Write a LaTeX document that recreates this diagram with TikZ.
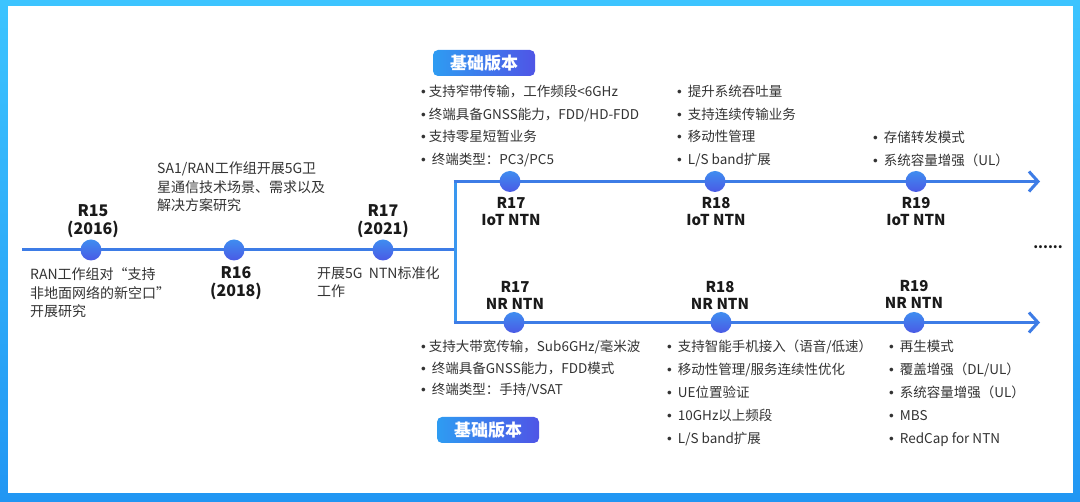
\documentclass[tikz,border=0pt]{standalone}
\usepackage{fontspec}
\setmainfont{Noto Sans CJK SC}
\newfontfamily\bulf{Liberation Sans}
\usetikzlibrary{arrows.meta}
\definecolor{frTop}{HTML}{3CC4FF}
\definecolor{frBot}{HTML}{2196F3}
\definecolor{lineC}{HTML}{3D7CE6}
\definecolor{vertC}{HTML}{3A97EF}
\definecolor{txt}{HTML}{333333}
\definecolor{lab}{HTML}{1A1A1A}
\definecolor{bdL}{HTML}{2E9CF2}
\definecolor{bdR}{HTML}{4F55E6}
\definecolor{cirT}{HTML}{3F8DF0}
\definecolor{cirB}{HTML}{4A5AE5}
\tikzset{
  tl/.style={line width=3pt, draw=lineC},
  arr/.style={tl, -{Straight Barb[length=9pt,width=20pt,line width=3pt]}},
  dot/.style={circle, minimum size=21pt, inner sep=0pt, top color=cirT, bottom color=cirB, draw=none},
  lbl/.style={align=center, font=\fontsize{15}{17}\selectfont\bfseries, text=lab, inner sep=0pt},
  lblbig/.style={align=center, font=\fontsize{16}{18}\selectfont\bfseries, text=lab, inner sep=0pt},
  desc/.style={anchor=west, align=left, font=\fontsize{14}{18.5}\selectfont, text=txt, inner sep=0pt},
  bl/.style={anchor=base west, font=\fontsize{13.5}{16}\selectfont, text=txt, inner sep=0pt},
  badge/.style={rounded corners=5pt, left color=bdL, right color=bdR, minimum width=102pt, minimum height=26pt, inner sep=0pt, text=white, font=\fontsize{17}{19}\selectfont\bfseries},
}
\newcommand{\bu}[1][5pt]{{\bulf •}\hspace{#1}}
\newcommand{\blist}[5]{%
  \foreach \t [count=\i] in {#5} {
    \node[bl] (#1-\i) at (#2, {#3+#4*(\i-1)}) {\t};
  }%
}
\begin{document}
\begin{tikzpicture}[x=1pt,y=-1pt]
\useasboundingbox (0,0) rectangle (1080,502);
% frame
\shade[top color=frTop, bottom color=frBot] (0,0) rectangle (1080,502);
\fill[white] (8,6) rectangle (1073,493);

% coordinates
\coordinate (s) at (22,250);
\coordinate (j) at (455,250);
\coordinate (ju) at (455,181.5);
\coordinate (jl) at (455,322.5);
\coordinate (eu) at (1040,181.5);
\coordinate (el) at (1040,322.5);

% lines
\draw[tl] (s) -- (j);
\draw[line width=3pt, draw=vertC] ([yshift=-1.5pt]ju) -- ([yshift=1.5pt]jl);
\draw[arr] ([xshift=-1.5pt]ju) -- (eu);
\draw[arr] ([xshift=-1.5pt]jl) -- (el);

% circles
\node[dot] (c15) at (91,250) {};
\node[dot] (c16) at (234,250) {};
\node[dot] (c17) at (383,250) {};
\node[dot] (u17) at (510,181.5) {};
\node[dot] (u18) at (715,181.5) {};
\node[dot] (u19) at (916,181.5) {};
\node[dot] (l17) at (514,322.5) {};
\node[dot] (l18) at (721,322.5) {};
\node[dot] (l19) at (914,322.5) {};

% main timeline labels
\node[lblbig] (t15) at (93,221) {R15\\(2016)};
\node[lblbig] (t16) at (236,283) {R16\\(2018)};
\node[lblbig] (t17) at (383,221) {R17\\(2021)};
\node[desc] (d16) at (157,187) {SA1/RAN工作组开展5G卫\\星通信技术场景、需求以及\\解决方案研究};
\node[desc] (d15) at (30,293) {RAN工作组对“支持\\非地面网络的新空口”\\开展研究};
\node[desc] (d17) at (317,282) {开展5G\ \ NTN标准化\\工作};

% branch labels
\node[lbl] (n-u17) at (511,212) {R17\\IoT NTN};
\node[lbl] (n-u18) at (716,212) {R18\\IoT NTN};
\node[lbl] (n-u19) at (916,212) {R19\\IoT NTN};
\node[lbl] (n-l17) at (515,295.5) {R17\\NR NTN};
\node[lbl] (n-l18) at (720,295.5) {R18\\NR NTN};
\node[lbl] (n-l19) at (914,294.5) {R19\\NR NTN};

% badges
\node[badge] (b1) at (484,63) {基础版本};
\node[badge] (b2) at (488,430) {基础版本};

% bullet lists
\blist{ua}{421}{97}{22.5}{{\bu[3pt]支持窄带传输，工作频段<6GHz},{\bu[3pt]终端具备GNSS能力，FDD/HD-FDD},{\bu[3pt]支持零星短暂业务},{\bu[6pt]终端类型：PC3/PC5}}
\blist{ub}{677}{97}{22.5}{{\bu[6pt]提升系统吞吐量},{\bu[6pt]支持连续传输业务},{\bu[6pt]移动性管理},{\bu[6pt]L/S band扩展}}
\blist{uc}{873}{143}{22.5}{{\bu[6pt]存储转发模式},{\bu[6pt]系统容量增强（UL）}}
\blist{la}{421}{352}{21.5}{{\bu[3pt]支持大带宽传输，Sub6GHz/毫米波},{\bu[6pt]终端具备GNSS能力，FDD模式},{\bu[6pt]终端类型：手持/VSAT}}
\blist{lb}{667}{352}{22.8}{{\bu[6pt]支持智能手机接入（语音/低速）},{\bu[6pt]移动性管理/服务连续性优化},{\bu[6pt]UE位置验证},{\bu[6pt]10GHz以上频段},{\bu[6pt]L/S band扩展}}
\blist{lc}{889}{352}{22.8}{{\bu[6pt]再生模式},{\bu[6pt]覆盖增强（DL/UL）},{\bu[6pt]系统容量增强（UL）},{\bu[6pt]MBS},{\bu[6pt]RedCap for NTN}}

% ellipsis
\node[font=\fontsize{14}{15}\selectfont\bfseries, text=lab, inner sep=0pt] (more) at (1048,247) {......};
\end{tikzpicture}
\end{document}
